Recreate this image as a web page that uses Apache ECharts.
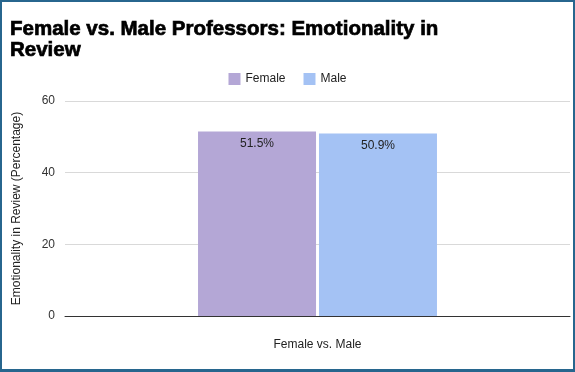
<!DOCTYPE html>
<html><head><meta charset="utf-8">
<script src="https://cdn.jsdelivr.net/npm/echarts@6/dist/echarts.min.js"></script>
<style>
html,body{margin:0;padding:0;background:#fff;}
#frame{position:absolute;left:0;top:0;width:571px;height:367px;border:2px solid #27668e;border-bottom-width:3px;background:#fff;}
#c{position:absolute;left:0;top:0;width:571px;height:367px;}
</style></head>
<body><div id="frame"><div id="c"></div></div>
<script>
const categories = ['Female vs. Male'];
const seriesNames = ['Female', 'Male'];
const femaleValues = [51.5];
const maleValues = [50.9];
const yTicks = [0, 20, 40, 60];

const chart = echarts.init(document.getElementById('c'), null, {renderer: 'canvas'});
const font = 'Liberation Sans, Arial, sans-serif';
chart.setOption({
  animation: false,
  textStyle: {fontFamily: font},
  title: {
    text: 'Female vs. Male Professors: Emotionality in\nReview',
    left: 3, top: 12,
    textStyle: {fontFamily: font, fontWeight: 'bold', fontSize: 20.5, color: '#000', lineHeight: 21,
      textBorderColor: '#000', textBorderWidth: 0.7}
  },
  legend: {
    data: seriesNames,
    left: 'center', top: 66,
    itemWidth: 12, itemHeight: 12, itemGap: 18,
    icon: 'rect',
    textStyle: {fontFamily: font, fontSize: 12, color: '#222'}
  },
  grid: {left: 63, right: 3, top: 99, bottom: 53},
  xAxis: {
    type: 'category',
    data: categories,
    axisTick: {show: false},
    axisLine: {lineStyle: {color: '#333', width: 1}},
    axisLabel: {fontFamily: font, fontSize: 12, color: '#222', margin: 23}
  },
  yAxis: {
    type: 'value', min: 0, max: 60, interval: 20,
    name: 'Emotionality in Review (Percentage)',
    nameLocation: 'middle', nameGap: 42,
    nameTextStyle: {fontFamily: font, fontSize: 12, color: '#222'},
    axisLabel: {fontFamily: font, fontSize: 12, color: '#333', margin: 10},
    splitLine: {lineStyle: {color: '#d9d9d9'}},
    axisLine: {show: false}, axisTick: {show: false}
  },
  series: [
    {name: seriesNames[0], type: 'bar', data: femaleValues, barWidth: 118, barGap: '2.5%',
     itemStyle: {color: '#b4a7d6'},
     label: {show: true, position: 'insideTop', offset: [0, 1], formatter: p => p.value.toFixed(1) + '%', fontFamily: font, fontSize: 12, color: '#222'}},
    {name: seriesNames[1], type: 'bar', data: maleValues, barWidth: 118,
     itemStyle: {color: '#a4c2f4'},
     label: {show: true, position: 'insideTop', offset: [0, 1], formatter: p => p.value.toFixed(1) + '%', fontFamily: font, fontSize: 12, color: '#222'}}
  ]
});
</script></body></html>
